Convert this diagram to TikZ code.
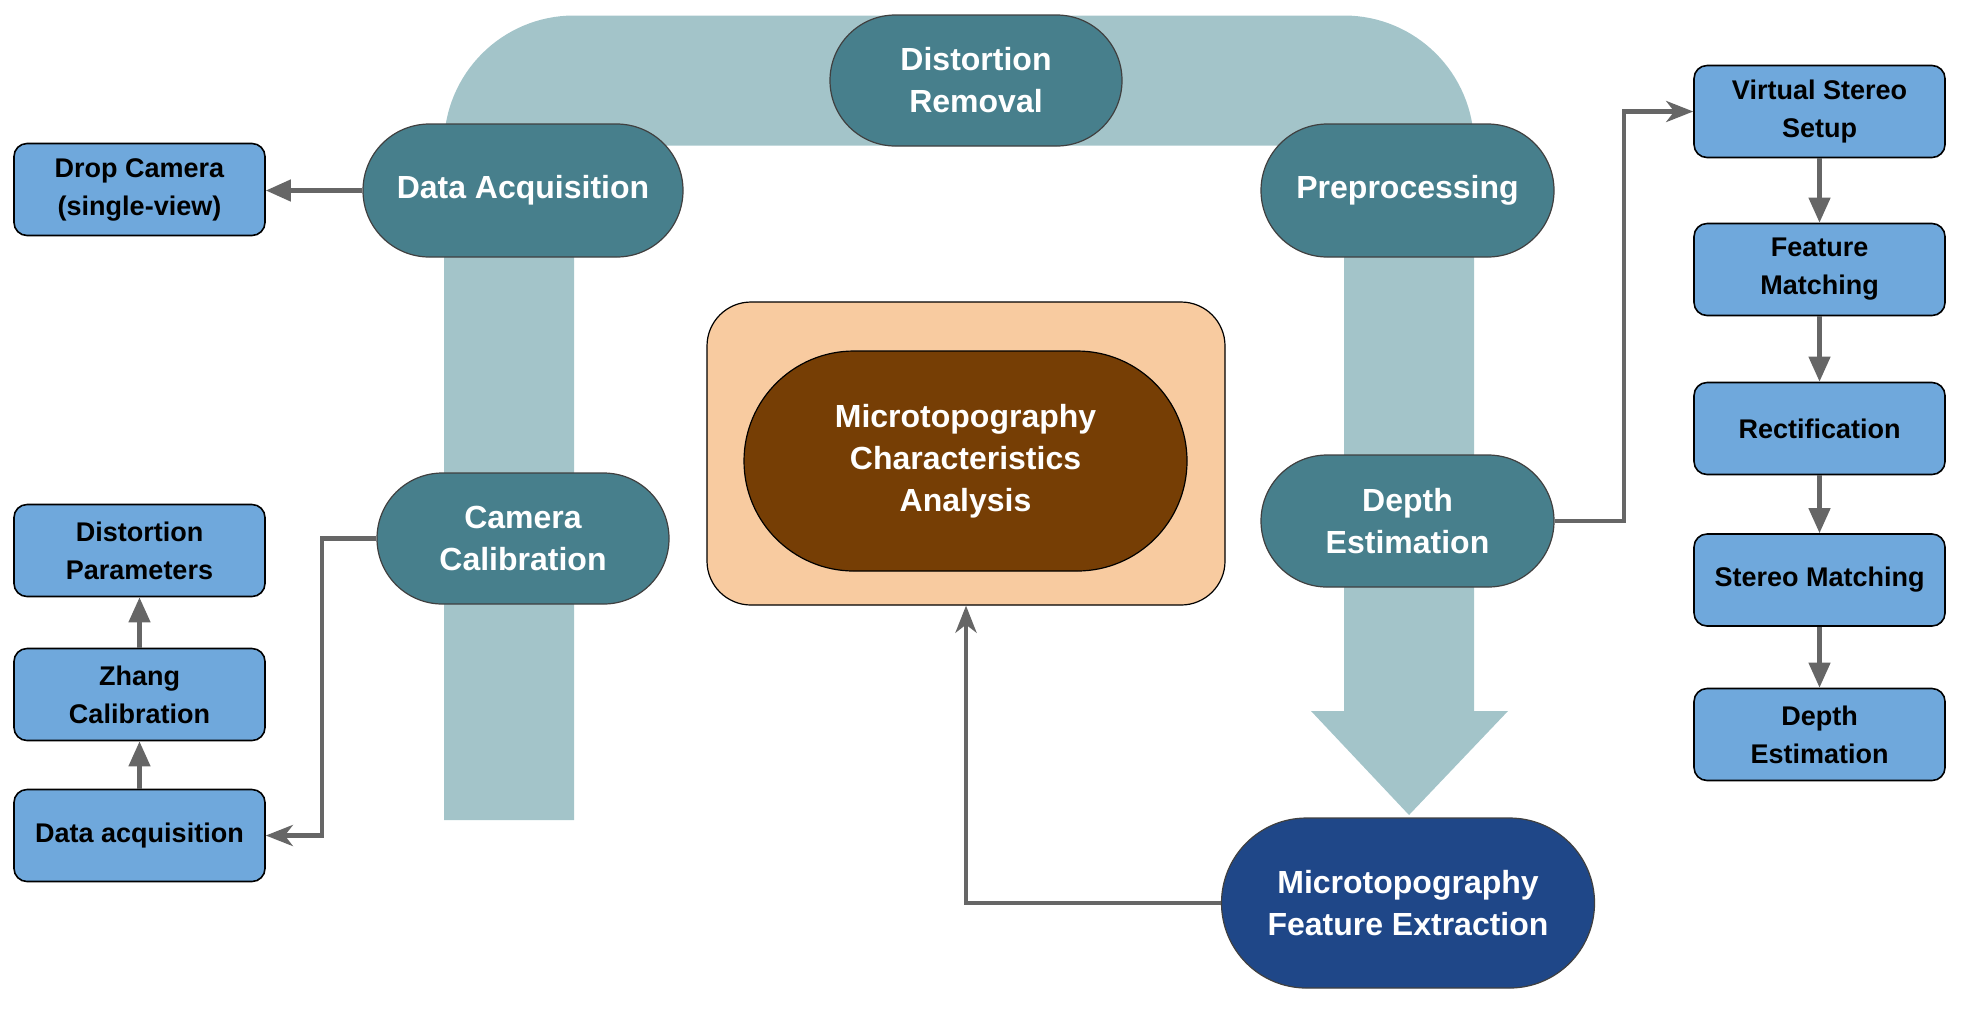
\documentclass[tikz,border=0pt]{standalone}
\usepackage{fontspec}
\setmainfont{Liberation Sans}
\usetikzlibrary{arrows.meta}
\definecolor{pipe}{HTML}{A3C4C9}
\definecolor{teal}{HTML}{477F8C}
\definecolor{boxblue}{HTML}{6FA8DC}
\definecolor{navy}{HTML}{1F4788}
\definecolor{brown}{HTML}{763E05}
\definecolor{peach}{HTML}{F8CBA0}
\definecolor{conn}{HTML}{666666}
\tikzset{
  stadium/.style={draw=black!75, line width=0.6pt, fill=teal, text=white, align=center,
    font=\bfseries\fontsize{16}{21}\selectfont, inner sep=0pt},
  bluebox/.style={draw=black, line width=0.8pt, fill=boxblue, text=black, align=center,
    font=\bfseries\fontsize{13.5}{19}\selectfont, minimum width=125.5pt, minimum height=46pt,
    rounded corners=6.5pt, inner sep=0pt},
  tri/.style={conn, line width=2.2pt, -{Triangle[length=12.5pt,width=10.5pt]}},
  elbow/.style={conn, line width=2.2pt, -{Stealth[length=13.5pt,width=10.5pt,inset=4pt]}},
}
\begin{document}
\begin{tikzpicture}[x=0.5pt,y=-0.5pt]
\useasboundingbox (0,0) rectangle (1962,1009);
% pipe
\draw[pipe, line width=65pt, rounded corners=32.5pt] (509,820) -- (509,80.5) -- (1409,80.5) -- (1409,713);
\fill[pipe] (1311,711) -- (1508,711) -- (1409,815) -- cycle;
% teal stadiums
\node[stadium, minimum width=160pt, minimum height=66.5pt, rounded corners=33.2pt] (da) at (523,190.5) {Data Acquisition};
\node[stadium, minimum width=146pt, minimum height=65.5pt, rounded corners=32.7pt] (dr) at (976,80.5) {Distortion\\Removal};
\node[stadium, minimum width=146.5pt, minimum height=66.5pt, rounded corners=33.2pt] (pp) at (1407.5,190.5) {Preprocessing};
\node[stadium, minimum width=146pt, minimum height=65.5pt, rounded corners=32.7pt] (cc) at (523,538.5) {Camera\\Calibration};
\node[stadium, minimum width=146.5pt, minimum height=66pt, rounded corners=33pt] (de) at (1407.5,521) {Depth\\Estimation};
\node[stadium, fill=navy, minimum width=186.5pt, minimum height=85pt, rounded corners=42.5pt] (fe) at (1408,903) {Microtopography\\Feature Extraction};
% centre
\node[draw=black, line width=0.6pt, fill=peach, minimum width=259pt, minimum height=151.5pt, rounded corners=22pt] (frame) at (966,453.5) {};
\node[stadium, draw=black, fill=brown, minimum width=221.5pt, minimum height=110pt, rounded corners=55pt] (mca) at (965.5,461) {Microtopography\\Characteristics\\Analysis};
% left column
\node[bluebox] (drop) at (139.5,189.5) {Drop Camera\\(single-view)};
\node[bluebox] (dpar) at (139.5,550.5) {Distortion\\Parameters};
\node[bluebox] (zhang) at (139.5,694.5) {Zhang\\Calibration};
\node[bluebox] (dacq) at (139.5,835.5) {Data acquisition};
% right column
\node[bluebox] (vss) at (1819.5,111.5) {Virtual Stereo\\Setup};
\node[bluebox] (fm) at (1819.5,269.5) {Feature\\Matching};
\node[bluebox] (rect) at (1819.5,428.5) {Rectification};
\node[bluebox] (sm) at (1819.5,580) {Stereo Matching};
\node[bluebox] (dep) at (1819.5,734.5) {Depth\\Estimation};
% connectors
\coordinate (cj) at (322,0);
\coordinate (dj) at (1624,0);
\draw[tri] (da.west) -- (da.west -| drop.east);
\draw[elbow] (cc.west) -- (cc.west -| cj) |- (dacq.east);
\draw[tri] (dacq) -- (zhang);
\draw[tri] (zhang) -- (dpar);
\draw[elbow] (de.east) -- (de.east -| dj) |- (vss.west);
\draw[tri] (vss) -- (fm);
\draw[tri] (fm) -- (rect);
\draw[tri] (rect) -- (sm);
\draw[tri] (sm) -- (dep);
\draw[elbow] (fe.west) -| (frame.south);
\end{tikzpicture}
\end{document}
